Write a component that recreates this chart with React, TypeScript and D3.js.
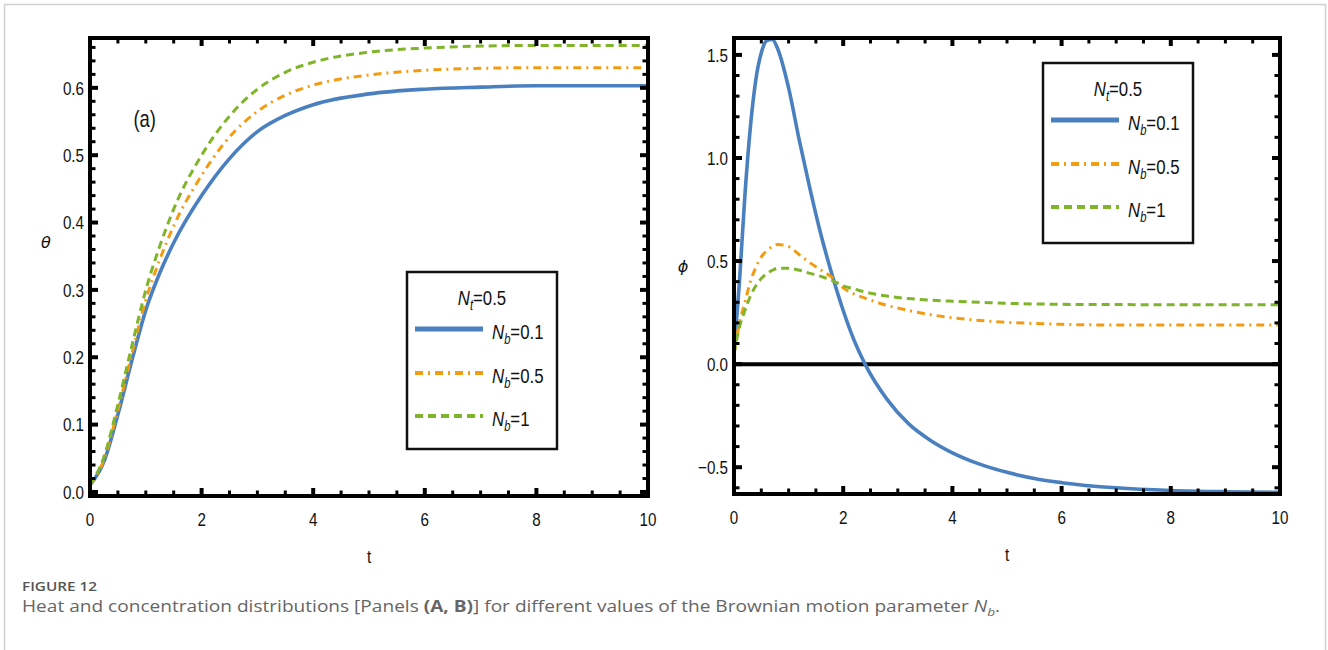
import React from 'react';
import * as d3 from 'd3';

// panel (a): theta vs t
const tA = [0, 0.25, 0.5, 0.75, 1, 1.25, 1.5, 2, 2.5, 3, 3.5, 4, 5, 6, 7, 8, 9, 10];
const thetaNb01 = [0.01, 0.045, 0.115, 0.195, 0.27, 0.325, 0.37, 0.44, 0.495, 0.535, 0.559, 0.575, 0.591, 0.598, 0.601, 0.603, 0.603, 0.603];
const thetaNb05 = [0.01, 0.048, 0.122, 0.205, 0.285, 0.345, 0.395, 0.47, 0.527, 0.565, 0.589, 0.604, 0.619, 0.626, 0.629, 0.63, 0.63, 0.63];
const thetaNb1 = [0.01, 0.052, 0.13, 0.217, 0.3, 0.365, 0.42, 0.5, 0.558, 0.598, 0.623, 0.638, 0.653, 0.659, 0.662, 0.663, 0.663, 0.663];

// panel (b): phi vs t
const tB = [0, 0.1, 0.2, 0.3, 0.4, 0.5, 0.6, 0.7, 0.8, 1, 1.2, 1.4, 1.6, 1.8, 2, 2.2, 2.4, 2.8, 3.2, 3.6, 4, 4.5, 5, 5.5, 6, 7, 8, 9, 10];
const phiNb01 = [0.05, 0.4, 0.82, 1.15, 1.38, 1.51, 1.57, 1.575, 1.53, 1.34, 1.08, 0.84, 0.62, 0.43, 0.26, 0.115, 0.0, -0.17, -0.29, -0.37, -0.43, -0.485, -0.525, -0.555, -0.575, -0.6, -0.613, -0.619, -0.622];
const phiNb05 = [0.05, 0.2, 0.3, 0.4, 0.47, 0.52, 0.55, 0.57, 0.58, 0.57, 0.53, 0.49, 0.455, 0.42, 0.37, 0.34, 0.32, 0.285, 0.26, 0.24, 0.225, 0.212, 0.203, 0.197, 0.193, 0.19, 0.19, 0.19, 0.19];
const phiNb1 = [0.05, 0.18, 0.26, 0.33, 0.38, 0.415, 0.44, 0.455, 0.465, 0.465, 0.455, 0.44, 0.425, 0.405, 0.38, 0.365, 0.35, 0.33, 0.318, 0.31, 0.305, 0.3, 0.295, 0.292, 0.29, 0.289, 0.288, 0.288, 0.288];

const legendLabels = ['0.1', '0.5', '1'];
const xTicks = [0, 2, 4, 6, 8, 10];
const yTicksA = [0, 0.1, 0.2, 0.3, 0.4, 0.5, 0.6];
const yTicksB = [-0.5, 0, 0.5, 1.0, 1.5];

const colors = ['#4a80c0', '#f39c12', '#80b42a'];
const dashes = ['', '8,5,2,5', '8,5'];
const widths = [3.6, 3, 3];

const tickFont = '"Liberation Sans", Arimo, Arial, sans-serif';
const SX = 0.8; // the original labels use a narrow face

// text squeezed horizontally around its anchor
const Narrow = ({ x, y, anchor = 'start', children, ...rest }: any) => (
  <g transform={`translate(${x},${y}) scale(${SX},1)`}>
    <text textAnchor={anchor} {...rest}>{children}</text>
  </g>
);

type PanelProps = {
  id: string;
  x0: number; x1: number; y0: number; y1: number;
  yDomain: [number, number];
  yTicks: number[];
  yMinorStep: number;
  yFmt: (v: number) => string;
  t: number[];
  series: number[][];
  yLabel: string;
  yLabelPos: [number, number];
  legend: { x: number; y: number; w: number; h: number };
  zeroLine?: boolean;
  tag?: string;
};

const Panel = (p: PanelProps) => {
  const x = d3.scaleLinear().domain([0, 10]).range([p.x0, p.x1]);
  const y = d3.scaleLinear().domain(p.yDomain).range([p.y1, p.y0]);
  const line = d3.line<[number, number]>()
    .x(d => x(d[0]))
    .y(d => y(d[1]))
    .curve(d3.curveMonotoneX);

  const xMinor = d3.range(0, 10.001, 0.5).filter(v => !xTicks.includes(v));
  const lo = Math.ceil(p.yDomain[0] / p.yMinorStep) * p.yMinorStep;
  const yMinor = d3.range(lo, p.yDomain[1], p.yMinorStep)
    .filter(v => !p.yTicks.some(t => Math.abs(t - v) < 1e-6));

  const L = p.legend;
  const rowY = [L.y + 59, L.y + 103, L.y + 146];

  return (
    <g>
      <defs>
        <clipPath id={p.id}>
          <rect x={p.x0} y={p.y0} width={p.x1 - p.x0} height={p.y1 - p.y0} />
        </clipPath>
      </defs>
      <g clipPath={`url(#${p.id})`}>
        {p.zeroLine && (
          <line x1={p.x0} x2={p.x1} y1={y(0)} y2={y(0)} stroke="#000" strokeWidth={4} />
        )}
        {p.series.map((s, i) => (
          <path key={i} d={line(p.t.map((tv, j) => [tv, s[j]]) as [number, number][]) || ''}
            fill="none" stroke={colors[i]} strokeWidth={widths[i]}
            strokeDasharray={dashes[i] || undefined} />
        ))}
      </g>
      {/* ticks */}
      <g stroke="#000">
        {xTicks.map(v => (
          <g key={'xt' + v}>
            <line x1={x(v)} x2={x(v)} y1={p.y1} y2={p.y1 - 8} strokeWidth={4} />
            <line x1={x(v)} x2={x(v)} y1={p.y0} y2={p.y0 + 8} strokeWidth={4} />
          </g>
        ))}
        {xMinor.map(v => (
          <g key={'xm' + v}>
            <line x1={x(v)} x2={x(v)} y1={p.y1} y2={p.y1 - 5.5} strokeWidth={3} />
            <line x1={x(v)} x2={x(v)} y1={p.y0} y2={p.y0 + 5.5} strokeWidth={3} />
          </g>
        ))}
        {p.yTicks.map(v => (
          <g key={'yt' + v}>
            <line x1={p.x0} x2={p.x0 + 8} y1={y(v)} y2={y(v)} strokeWidth={4} />
            <line x1={p.x1} x2={p.x1 - 8} y1={y(v)} y2={y(v)} strokeWidth={4} />
          </g>
        ))}
        {yMinor.map(v => (
          <g key={'ym' + v}>
            <line x1={p.x0} x2={p.x0 + 5.5} y1={y(v)} y2={y(v)} strokeWidth={3} />
            <line x1={p.x1} x2={p.x1 - 5.5} y1={y(v)} y2={y(v)} strokeWidth={3} />
          </g>
        ))}
      </g>
      <rect x={p.x0} y={p.y0} width={p.x1 - p.x0} height={p.y1 - p.y0}
        fill="none" stroke="#000" strokeWidth={4} />
      {/* tick labels */}
      <g fontFamily={tickFont} fontSize={19} fill="#111">
        {xTicks.map(v => (
          <Narrow key={'xl' + v} x={x(v)} y={p.y1 + 30} anchor="middle">{v}</Narrow>
        ))}
        {p.yTicks.map(v => (
          <Narrow key={'yl' + v} x={p.x0 - 6} y={y(v)} dy="0.36em" anchor="end">{p.yFmt(v)}</Narrow>
        ))}
        <Narrow x={(p.x0 + p.x1) / 2} y={p.y1 + 67} anchor="middle">t</Narrow>
        <text x={p.yLabelPos[0]} y={p.yLabelPos[1]} textAnchor="middle" fontStyle="italic"
          fontFamily='"DejaVu Sans", sans-serif' fontSize={16}>{p.yLabel}</text>
        {p.tag && (
          <Narrow x={x(0.98)} y={y(0.554)} dy="0.36em" anchor="middle" fontSize={23}>{p.tag}</Narrow>
        )}
      </g>
      {/* legend */}
      <g fontFamily={tickFont} fontSize={21} fill="#111">
        <rect x={L.x} y={L.y} width={L.w} height={L.h} fill="#fff" stroke="#111" strokeWidth={2.5} />
        <Narrow x={L.x + 75} y={L.y + 25} dy="0.36em" anchor="middle">
          <tspan fontStyle="italic">N</tspan>
          <tspan fontStyle="italic" fontSize={14} dy={5}>t</tspan>
          <tspan dy={-5}>=0.5</tspan>
        </Narrow>
        {legendLabels.map((lab, i) => (
          <g key={lab}>
            <line x1={L.x + 8} x2={L.x + 76} y1={rowY[i] - 2} y2={rowY[i] - 2}
              stroke={colors[i]} strokeWidth={i === 0 ? 5 : 4}
              strokeDasharray={dashes[i] || undefined} />
            <Narrow x={L.x + 85} y={rowY[i]} dy="0.36em">
              <tspan fontStyle="italic">N</tspan>
              <tspan fontStyle="italic" fontSize={14} dy={5}>b</tspan>
              <tspan dy={-5}>={lab}</tspan>
            </Narrow>
          </g>
        ))}
      </g>
    </g>
  );
};

const App = () => {
  return (
    <div style={{ position: 'absolute', left: 0, top: 0 }}>
      <svg width={1328} height={650} style={{ display: 'block', background: '#fff' }}>
        <rect x={4.5} y={4.5} width={1321} height={700} fill="none" stroke="#d0d0d0" strokeWidth={1.5} />
        <Panel id="clipA" x0={90} x1={648} y0={38} y1={496}
          yDomain={[-0.006, 0.674]} yTicks={yTicksA} yMinorStep={0.02}
          yFmt={v => v.toFixed(1)}
          t={tA} series={[thetaNb01, thetaNb05, thetaNb1]}
          yLabel="θ" yLabelPos={[46, 248]}
          legend={{ x: 407, y: 272, w: 150, h: 177 }}
          tag="(a)" />
        <Panel id="clipB" x0={734} x1={1280} y0={38} y1={494}
          yDomain={[-0.63, 1.582]} yTicks={yTicksB} yMinorStep={0.1}
          yFmt={v => (v < 0 ? '\u2212' + Math.abs(v).toFixed(1) : v.toFixed(1))}
          t={tB} series={[phiNb01, phiNb05, phiNb1]}
          yLabel="ϕ" yLabelPos={[683, 272]}
          legend={{ x: 1043, y: 63, w: 150, h: 180 }}
          zeroLine />
        <text x={22} y={591} fontFamily='"Open Sans", sans-serif' fontSize={13} fontWeight={600} fill="#555"
          textLength={75} lengthAdjust="spacingAndGlyphs">FIGURE 12</text>
        <text x={22} y={612} fontFamily='"Open Sans", sans-serif' fontSize={15.5} fill="#666"
          textLength={978} lengthAdjust="spacingAndGlyphs">
          Heat and concentration distributions [Panels <tspan fontWeight="bold">(A, B)</tspan>] for different values of the Brownian motion parameter <tspan fontStyle="italic">N</tspan><tspan fontStyle="italic" fontSize={11} dy={4}>b</tspan><tspan dy={-4}>.</tspan>
        </text>
      </svg>
    </div>
  );
};

export default App;
